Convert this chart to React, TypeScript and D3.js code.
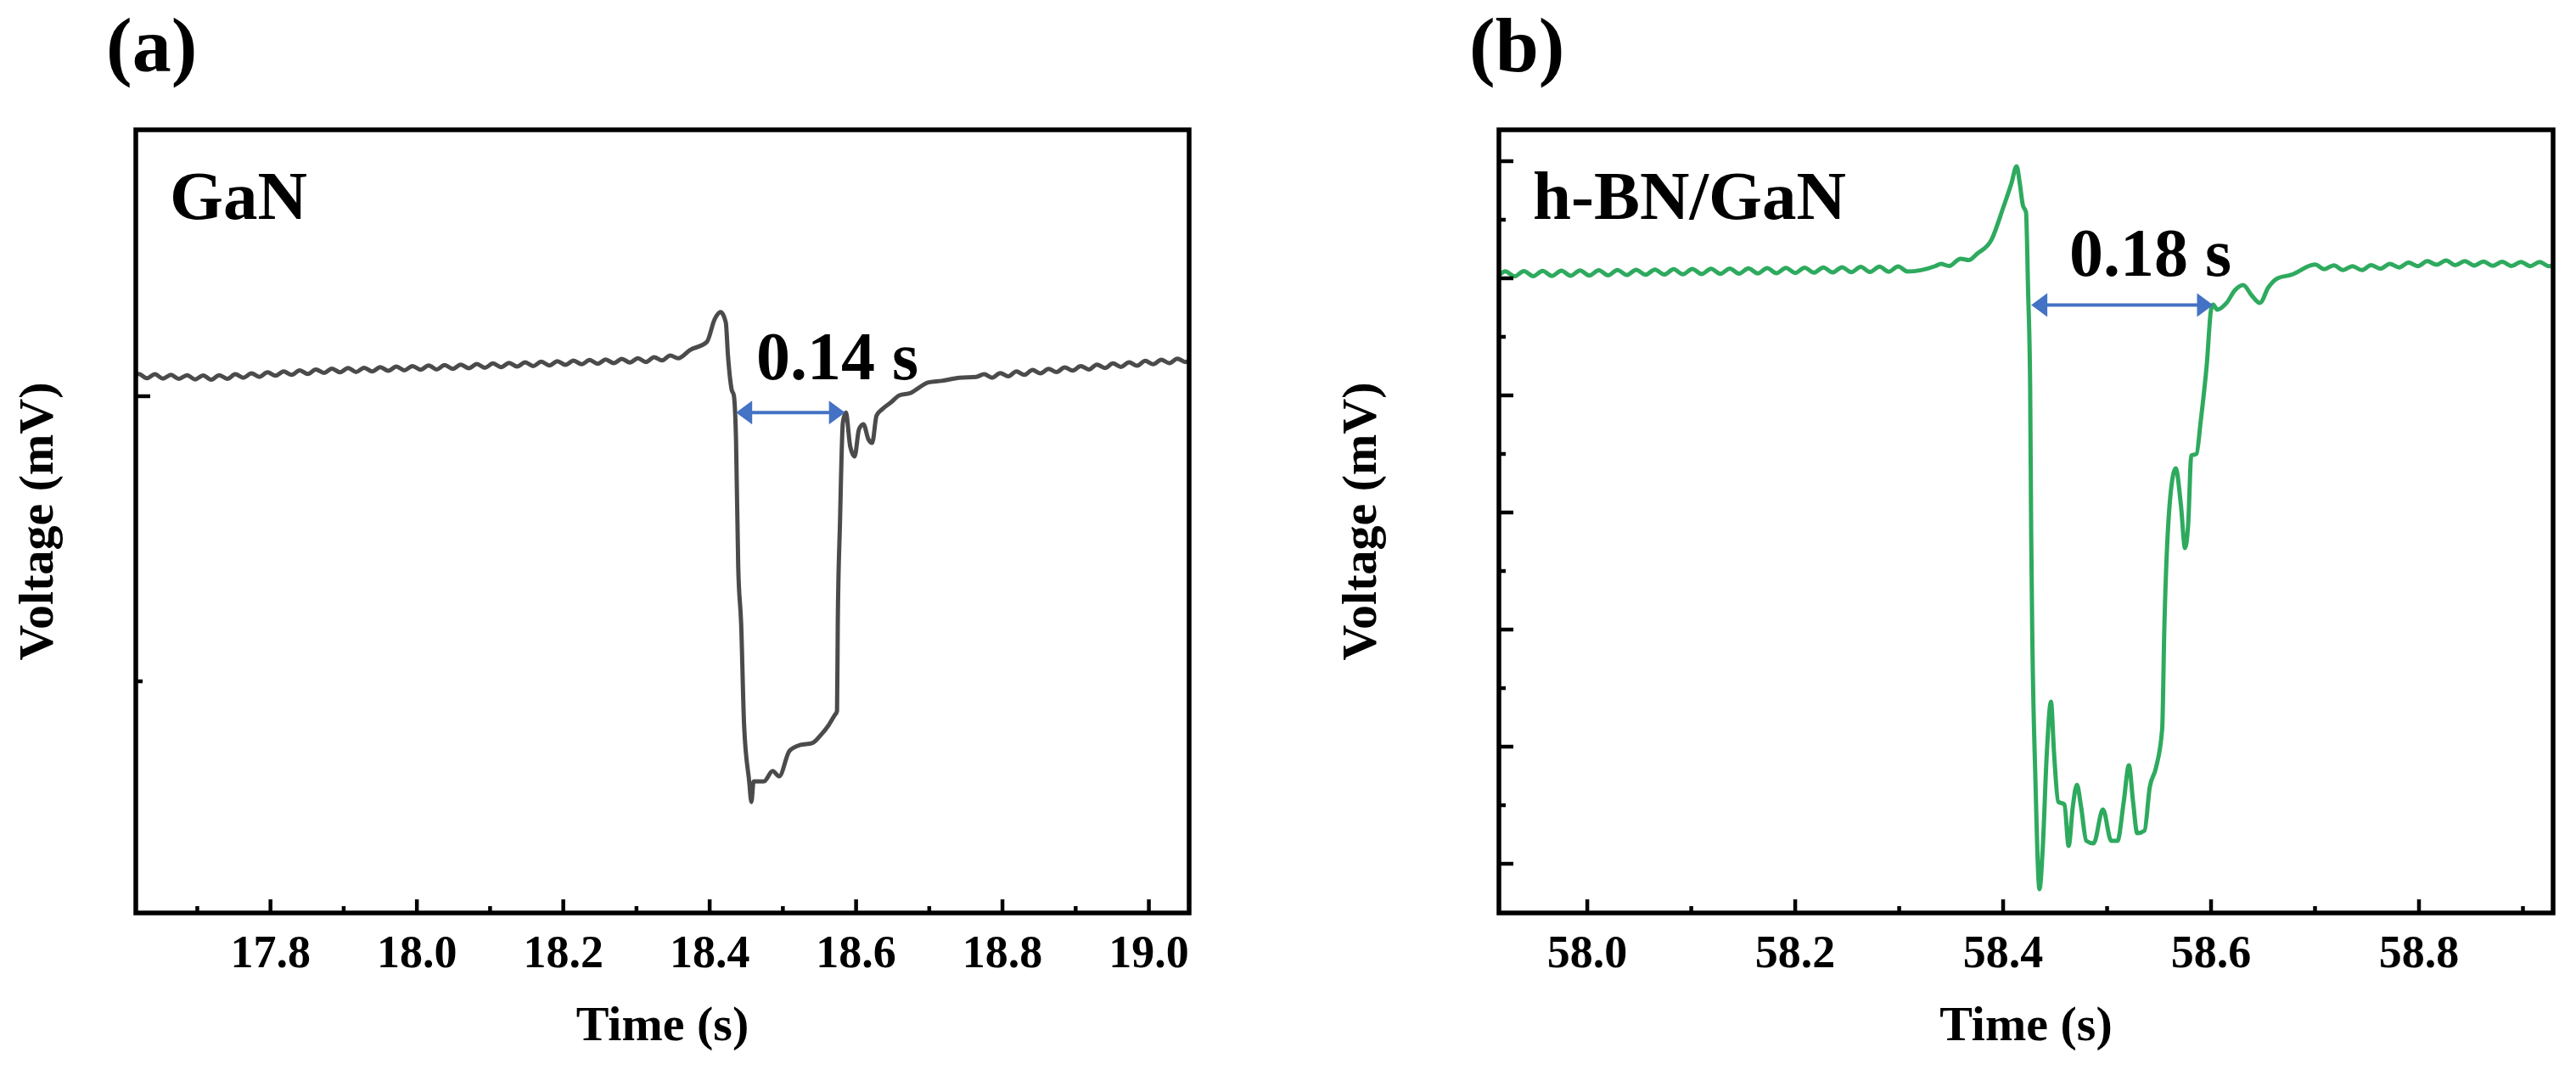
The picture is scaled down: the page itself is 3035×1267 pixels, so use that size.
import React from 'react';
import * as d3 from 'd3';

type Pt = [number, number];

// (a) GaN response, time (s) vs voltage (arbitrary mV, no tick values in the figure)
const ganTrace: Pt[] = [
  [17.609, 10.65], [17.62, 10.78], [17.631, 10.63], [17.642, 10.77], [17.653, 10.62], [17.664, 10.75],
  [17.675, 10.61], [17.686, 10.74], [17.697, 10.59], [17.708, 10.73], [17.719, 10.58], [17.73, 10.74],
  [17.741, 10.61], [17.752, 10.77], [17.763, 10.65], [17.774, 10.8], [17.785, 10.68], [17.796, 10.84],
  [17.807, 10.72], [17.818, 10.87], [17.829, 10.75], [17.84, 10.91], [17.851, 10.78], [17.862, 10.94],
  [17.873, 10.82], [17.884, 10.97], [17.895, 10.84], [17.906, 10.99], [17.917, 10.85], [17.928, 11.0],
  [17.939, 10.87], [17.95, 11.02], [17.961, 10.89], [17.972, 11.04], [17.983, 10.91], [17.994, 11.06],
  [18.005, 10.93], [18.016, 11.08], [18.027, 10.94], [18.038, 11.09], [18.049, 10.96], [18.06, 11.11],
  [18.071, 10.98], [18.082, 11.13], [18.093, 11.0], [18.104, 11.15], [18.115, 11.02], [18.126, 11.17],
  [18.137, 11.04], [18.148, 11.19], [18.159, 11.06], [18.17, 11.21], [18.181, 11.08], [18.192, 11.23],
  [18.203, 11.1], [18.214, 11.25], [18.225, 11.12], [18.236, 11.27], [18.247, 11.14], [18.258, 11.29],
  [18.269, 11.16], [18.28, 11.31], [18.291, 11.18], [18.302, 11.33], [18.313, 11.2], [18.324, 11.37],
  [18.335, 11.26], [18.346, 11.43], [18.357, 11.33], [18.373, 11.62], [18.396, 11.9], [18.407, 12.71],
  [18.415, 12.95], [18.422, 12.59], [18.425, 11.43], [18.43, 10.24], [18.433, 10.03], [18.436, 8.48],
  [18.439, 4.02], [18.443, 2.02], [18.447, -1.52], [18.454, -3.51], [18.457, -4.23], [18.46, -3.51],
  [18.474, -3.51], [18.486, -3.15], [18.495, -3.33], [18.509, -2.44], [18.524, -2.23], [18.54, -2.17],
  [18.552, -1.88], [18.563, -1.52], [18.57, -1.22], [18.574, -1.04], [18.575, 2.02], [18.578, 5.54],
  [18.582, 9.08], [18.586, 9.43], [18.592, 8.24], [18.598, 7.89], [18.604, 8.84], [18.61, 9.02],
  [18.617, 8.48], [18.622, 8.36], [18.628, 9.32], [18.636, 9.55], [18.648, 9.79], [18.659, 10.03],
  [18.675, 10.12], [18.686, 10.3], [18.698, 10.48], [18.717, 10.54], [18.741, 10.65], [18.764, 10.68],
  [18.775, 10.77], [18.786, 10.65], [18.797, 10.81], [18.808, 10.7], [18.819, 10.87], [18.83, 10.75],
  [18.841, 10.92], [18.852, 10.8], [18.863, 10.96], [18.874, 10.85], [18.885, 11.01], [18.896, 10.9],
  [18.907, 11.06], [18.918, 10.94], [18.929, 11.11], [18.94, 10.99], [18.951, 11.15], [18.962, 11.03],
  [18.973, 11.19], [18.984, 11.07], [18.995, 11.24], [19.006, 11.12], [19.017, 11.28], [19.028, 11.16],
  [19.039, 11.32], [19.05, 11.2], [19.061, 11.37],
];

// (b) h-BN/GaN response
const bnTrace: Pt[] = [
  [57.903, 50.57], [57.912, 50.14], [57.921, 50.59], [57.93, 50.16], [57.939, 50.61], [57.948, 50.18],
  [57.957, 50.63], [57.966, 50.2], [57.975, 50.65], [57.984, 50.22], [57.993, 50.67], [58.002, 50.24],
  [58.011, 50.69], [58.02, 50.26], [58.029, 50.71], [58.038, 50.28], [58.047, 50.73], [58.056, 50.3],
  [58.065, 50.75], [58.074, 50.32], [58.083, 50.77], [58.092, 50.34], [58.101, 50.79], [58.11, 50.36],
  [58.119, 50.81], [58.128, 50.38], [58.137, 50.83], [58.146, 50.4], [58.155, 50.85], [58.164, 50.42],
  [58.173, 50.87], [58.182, 50.44], [58.191, 50.89], [58.2, 50.46], [58.209, 50.91], [58.218, 50.48],
  [58.227, 50.93], [58.236, 50.5], [58.245, 50.95], [58.254, 50.52], [58.263, 50.97], [58.272, 50.54],
  [58.281, 50.99], [58.29, 50.56], [58.299, 51.01], [58.308, 50.58], [58.335, 51.05], [58.34, 51.23],
  [58.348, 51.05], [58.359, 51.67], [58.367, 51.55], [58.375, 52.1], [58.389, 53.33], [58.4, 56.01],
  [58.408, 58.12], [58.413, 59.57], [58.416, 58.12], [58.419, 56.23], [58.422, 55.65], [58.424, 48.99],
  [58.426, 40.65], [58.427, 28.19], [58.428, 19.86], [58.431, 7.39], [58.435, -2.17], [58.438, 1.16],
  [58.442, 9.42], [58.446, 13.84], [58.449, 9.42], [58.453, 5.29], [58.459, 5.07], [58.463, 1.52],
  [58.467, 4.86], [58.471, 6.74], [58.475, 4.86], [58.48, 1.96], [58.487, 1.74], [58.496, 4.64],
  [58.504, 1.96], [58.51, 1.96], [58.516, 5.29], [58.521, 8.41], [58.525, 5.29], [58.529, 2.61],
  [58.536, 2.83], [58.541, 6.52], [58.547, 8.19], [58.553, 11.52], [58.555, 19.86], [58.561, 31.52],
  [58.566, 33.77], [58.571, 30.65], [58.575, 26.96], [58.578, 28.99], [58.581, 34.86], [58.586, 35.0],
  [58.59, 37.75], [58.596, 42.75], [58.6, 47.32], [58.602, 47.75], [58.606, 47.32], [58.615, 47.9],
  [58.623, 48.99], [58.631, 49.42], [58.639, 48.55], [58.647, 47.9], [58.655, 49.2], [58.664, 50.0],
  [58.677, 50.29], [58.7, 51.18], [58.709, 50.78], [58.718, 51.11], [58.727, 50.71], [58.736, 51.04],
  [58.745, 50.7], [58.754, 51.12], [58.763, 50.82], [58.772, 51.23], [58.781, 50.93], [58.79, 51.34],
  [58.799, 51.04], [58.808, 51.46], [58.817, 51.15], [58.826, 51.52], [58.835, 51.13], [58.844, 51.47],
  [58.853, 51.09], [58.862, 51.43], [58.871, 51.06], [58.88, 51.41], [58.889, 51.05], [58.898, 51.4],
  [58.907, 51.04], [58.916, 51.39], [58.925, 51.03], [58.934, 51.38],
];

const ganXMajor = [17.8, 18.0, 18.2, 18.4, 18.6, 18.8, 19.0];
const ganXMinor = [17.7, 17.9, 18.1, 18.3, 18.5, 18.7, 18.9];
const ganYMajor = [10];
const ganYMinor = [0];

const bnXMajor = [58.0, 58.2, 58.4, 58.6, 58.8];
const bnXMinor = [58.1, 58.3, 58.5, 58.7, 58.9];
const bnYMajor = [0, 10, 20, 30, 40, 50, 60];
const bnYMinor = [5, 15, 25, 35, 45, 55];

// response-time arrows: [start, end] in s, at the given voltage
const ganSpan = { t: [18.436, 18.585], v: 9.43, text: '0.14 s' };
const bnSpan = { t: [58.427, 58.602], v: 47.72, text: '0.18 s' };

const FONT = '"Liberation Serif", "Times New Roman", serif';
const ARROW = '#4472C4';

interface PanelProps {
  id: string;
  tag: string;
  sample: string;
  trace: Pt[];
  color: string;
  box: { left: number; right: number; top: number; bottom: number };
  xDomain: [number, number];
  yDomain: [number, number];
  xMajor: number[];
  xMinor: number[];
  yMajor: number[];
  yMinor: number[];
  span: { t: number[]; v: number; text: string };
  noteX: number;
  noteY: number;
  yTitleX: number;
}

const Panel: React.FC<PanelProps> = (p) => {
  const { left, right, top, bottom } = p.box;
  const x = d3.scaleLinear().domain(p.xDomain).range([left, right]);
  const y = d3.scaleLinear().domain(p.yDomain).range([bottom, top]);
  const line = d3.line<Pt>().x(d => x(d[0])).y(d => y(d[1])).curve(d3.curveMonotoneX);
  const fmt = d3.format('.1f');

  const ax0 = x(p.span.t[0]);
  const ax1 = x(p.span.t[1]);
  const ay = y(p.span.v);
  const head = 19;
  const half = 14;

  return (
    <g>
      <defs>
        <clipPath id={`clip-${p.id}`}>
          <rect x={left} y={top} width={right - left} height={bottom - top} />
        </clipPath>
      </defs>

      <text x={left - 35} y={84} fontFamily={FONT} fontWeight="bold" fontSize={92}>{p.tag}</text>

      <path d={line(p.trace) ?? ''} fill="none" stroke={p.color} strokeWidth={5}
        strokeLinejoin="round" clipPath={`url(#clip-${p.id})`} />

      {/* bottom ticks */}
      {p.xMajor.map(t => (
        <line key={`xM${t}`} x1={x(t)} x2={x(t)} y1={bottom} y2={bottom - 16} stroke="#000" strokeWidth={4.5} />
      ))}
      {p.xMinor.filter(t => x(t) < right - 3).map(t => (
        <line key={`xm${t}`} x1={x(t)} x2={x(t)} y1={bottom} y2={bottom - 8} stroke="#000" strokeWidth={4.5} />
      ))}
      {/* left ticks */}
      {p.yMajor.map(v => (
        <line key={`yM${v}`} x1={left} x2={left + 17} y1={y(v)} y2={y(v)} stroke="#000" strokeWidth={4.5} />
      ))}
      {p.yMinor.map(v => (
        <line key={`ym${v}`} x1={left} x2={left + 8} y1={y(v)} y2={y(v)} stroke="#000" strokeWidth={4.5} />
      ))}

      <rect x={left} y={top} width={right - left} height={bottom - top} fill="none" stroke="#000" strokeWidth={5.5} />

      {p.xMajor.map(t => (
        <text key={`xl${t}`} x={x(t)} y={bottom + 64} textAnchor="middle" fontFamily={FONT}
          fontWeight="bold" fontSize={54}>{fmt(t)}</text>
      ))}

      <text x={(left + right) / 2} y={1226} textAnchor="middle" fontFamily={FONT} fontWeight="bold" fontSize={58}>
        Time (s)
      </text>
      <text transform={`translate(${p.yTitleX},${(top + bottom) / 2}) rotate(-90)`} textAnchor="middle"
        fontFamily={FONT} fontWeight="bold" fontSize={58}>
        Voltage (mV)
      </text>

      <text x={left + 40} y={258} fontFamily={FONT} fontWeight="bold" fontSize={81}>{p.sample}</text>

      {/* response-time arrow */}
      <line x1={ax0 + head - 2} x2={ax1 - head + 2} y1={ay} y2={ay} stroke={ARROW} strokeWidth={4} />
      <polygon points={`${ax0},${ay} ${ax0 + head},${ay - half} ${ax0 + head},${ay + half}`} fill={ARROW} />
      <polygon points={`${ax1},${ay} ${ax1 - head},${ay - half} ${ax1 - head},${ay + half}`} fill={ARROW} />
      <text x={p.noteX} y={p.noteY} fontFamily={FONT} fontWeight="bold" fontSize={80}>{p.span.text}</text>
    </g>
  );
};

export default function App() {
  return (
    <svg width={3035} height={1267} viewBox="0 0 3035 1267"
      style={{ position: 'absolute', left: 0, top: 0, background: '#fff' }}>
      <rect width={3035} height={1267} fill="#fff" />
      <Panel
        id="a" tag="(a)" sample="GaN" trace={ganTrace} color="#4b4b4b"
        box={{ left: 160, right: 1401, top: 153, bottom: 1076 }}
        xDomain={[17.616, 19.055]} yDomain={[-8.125, 19.345]}
        xMajor={ganXMajor} xMinor={ganXMinor} yMajor={ganYMajor} yMinor={ganYMinor}
        span={ganSpan} noteX={891} noteY={447} yTitleX={62}
      />
      <Panel
        id="b" tag="(b)" sample="h-BN/GaN" trace={bnTrace} color="#2eaa5e"
        box={{ left: 1766, right: 3008, top: 153, bottom: 1076 }}
        xDomain={[57.915, 58.929]} yDomain={[-4.2, 62.68]}
        xMajor={bnXMajor} xMinor={bnXMinor} yMajor={bnYMajor} yMinor={bnYMinor}
        span={bnSpan} noteX={2438} noteY={325} yTitleX={1621}
      />
    </svg>
  );
}
